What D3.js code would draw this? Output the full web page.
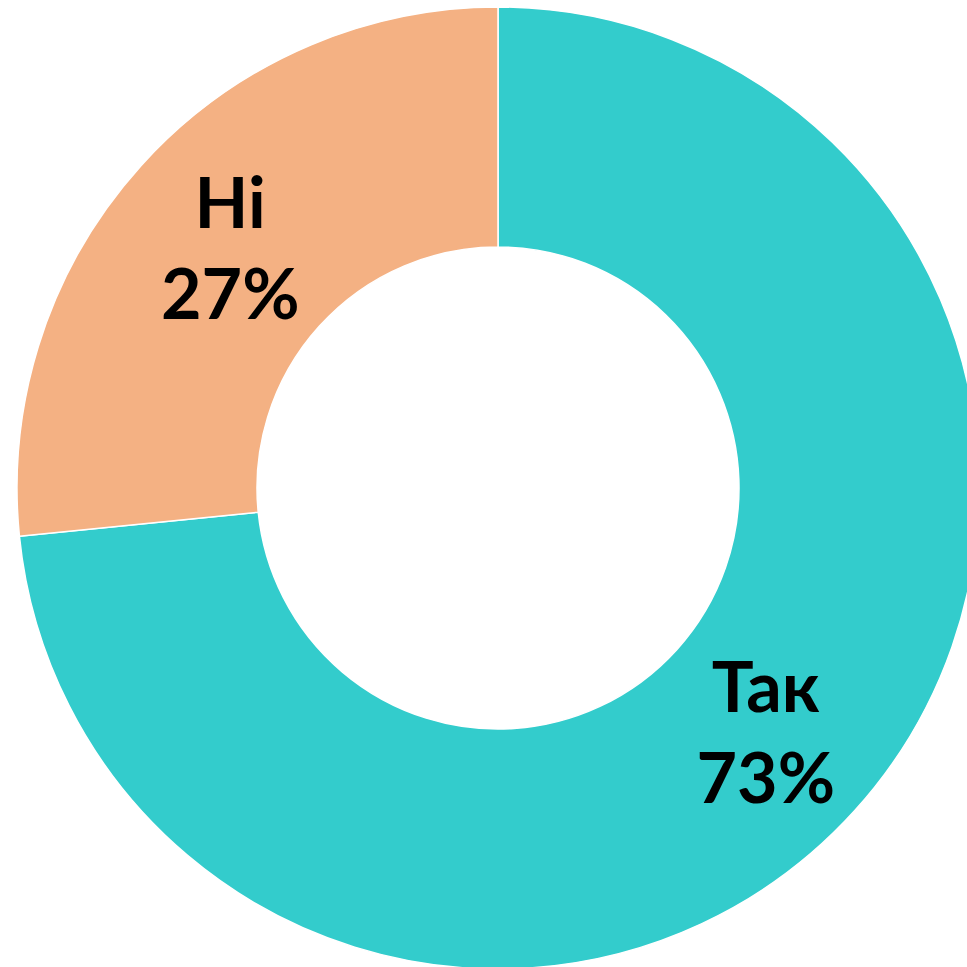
<!DOCTYPE html>
<html>
<head>
<meta charset="utf-8">
<script src="https://cdn.jsdelivr.net/npm/d3@7"></script>
<style>
	body { margin: 0; background: #fff; }
	#donut-svg { display: block; }
	.slice-label { font-family: Lato, "Open Sans", sans-serif; font-weight: 700; fill: #000; }
</style>
</head>
<body>
<svg id="donut-svg" width="967" height="967"></svg>
<script>
// data
var categories = ["Так", "Ні"];
var values = [73.4, 26.6];
var colors = ["#33CCCC", "#F4B183"];

var svg = d3.select('#donut-svg');

var cx = 498,
	cy = 488,
	outerR = 481,
	innerR = 241;

var data = categories.map(function(c, i) {
	return { name: c, value: values[i], color: colors[i] };
});

// clockwise from 12 o'clock, no sorting
var pie = d3.pie()
	.sort(null)
	.value(function(d) { return d.value; });

var arc = d3.arc()
	.innerRadius(innerR)
	.outerRadius(outerR);

var labelArc = d3.arc()
	.innerRadius((innerR + outerR) / 2)
	.outerRadius((innerR + outerR) / 2);

var g = svg.append("g")
	.attr("transform", "translate(" + cx + "," + cy + ")");

var arcs = pie(data);

g.selectAll(".slice").data(arcs)
	.enter().append("path")
	.attr("class", "slice")
	.attr("d", arc)
	.attr("fill", function(d) { return d.data.color; })
	.attr("stroke", "#fff")
	.attr("stroke-width", 1.5);

var labels = g.selectAll(".slice-label").data(arcs)
	.enter().append("text")
	.attr("class", "slice-label")
	.attr("text-anchor", "middle")
	.style("font-size", "70px")
	.attr("transform", function(d) {
		return "translate(" + labelArc.centroid(d) + ")";
	});

labels.append("tspan")
	.attr("x", 0)
	.attr("y", -18)
	.text(function(d) { return d.data.name; });

labels.append("tspan")
	.attr("x", 0)
	.attr("y", 73)
	.text(function(d) { return Math.round(d.data.value) + "%"; });
</script>
</body>
</html>
